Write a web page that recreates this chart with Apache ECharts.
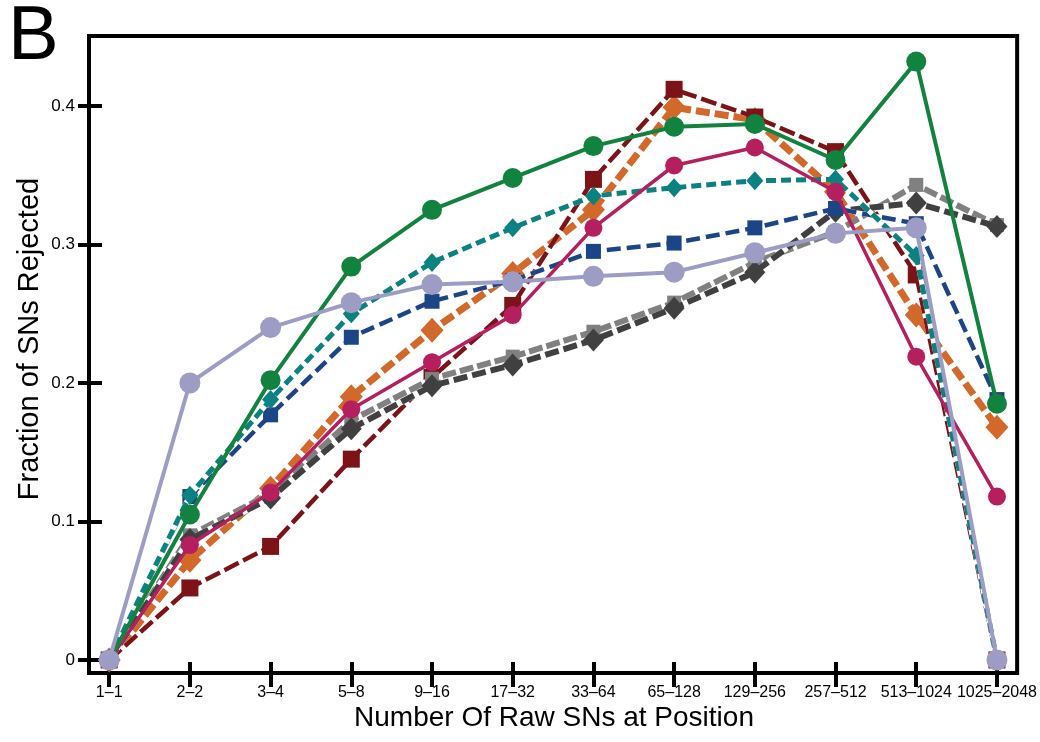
<!DOCTYPE html>
<html>
<head>
<meta charset="utf-8">
<script src="https://cdn.jsdelivr.net/npm/echarts@6/dist/echarts.min.js"></script>
<style>
html,body{margin:0;padding:0;background:#fff;}
#c{width:1040px;height:742px;}
</style>
</head>
<body>
<div id="c"></div>
<script>
const categories = ['1–1','2–2','3–4','5–8','9–16','17–32','33–64','65–128','129–256','257–512','513–1024','1025–2048'];
const yTicks = [0, 0.1, 0.2, 0.3, 0.4];

const greenVals    = [0, 0.105, 0.202, 0.284, 0.325, 0.348, 0.371, 0.385, 0.387, 0.361, 0.432, 0.185];
const darkRedVals  = [0, 0.052, 0.082, 0.145, 0.204, 0.256, 0.347, 0.412, 0.392, 0.367, 0.278, 0];
const orangeVals   = [0, 0.072, 0.124, 0.190, 0.238, 0.279, 0.325, 0.399, 0.390, 0.338, 0.249, 0.168];
const magentaVals  = [0, 0.083, 0.121, 0.181, 0.215, 0.249, 0.312, 0.357, 0.370, 0.338, 0.219, 0.118];
const tealVals     = [0, 0.119, 0.188, 0.250, 0.287, 0.312, 0.335, 0.341, 0.346, 0.347, 0.292, 0];
const navyVals     = [0, 0.118, 0.177, 0.233, 0.259, 0.274, 0.295, 0.301, 0.312, 0.326, 0.315, 0.188];
const lavenderVals = [0, 0.200, 0.240, 0.258, 0.271, 0.273, 0.277, 0.280, 0.294, 0.308, 0.312, 0];
const grayVals     = [0, 0.090, 0.120, 0.173, 0.203, 0.219, 0.237, 0.258, 0.287, 0.309, 0.343, 0.314];
const darkGrayVals = [0, 0.087, 0.117, 0.167, 0.198, 0.213, 0.231, 0.254, 0.280, 0.324, 0.330, 0.313];

// drawing order: bottom to top
const seriesDefs = [
  {name:'orange',   vals:orangeVals,   color:'#D2692B', width:7,   dash:[14,5], symbol:'diamond', size:[23,25]},
  {name:'darkRed',  vals:darkRedVals,  color:'#7C1417', width:4.5, dash:[16,5], symbol:'rect',    size:17},
  {name:'gray',     vals:grayVals,     color:'#808080', width:6,   dash:[14,4], symbol:'rect',    size:14},
  {name:'darkGray', vals:darkGrayVals, color:'#404040', width:6,   dash:[14,5], symbol:'diamond', size:[21,23]},
  {name:'navy',     vals:navyVals,     color:'#1B4586', width:4.5, dash:[14,6], symbol:'rect',    size:15},
  {name:'teal',     vals:tealVals,     color:'#0C8181', width:5,   dash:[10,5], symbol:'diamond', size:[17,19]},
  {name:'magenta',  vals:magentaVals,  color:'#B61F5E', width:3.5, dash:null,   symbol:'circle',  size:18},
  {name:'green',    vals:greenVals,    color:'#12833F', width:4,   dash:null,   symbol:'circle',  size:20},
  {name:'lavender', vals:lavenderVals, color:'#9C9CC5', width:4,   dash:null,   symbol:'circle',  size:21}
];

const series = [];
let z = 2;
seriesDefs.forEach(d => {
  const data = d.vals.map((v, i) => [i, v]);
  if (d.dash) {
    series.push({
      type:'line', data, z: z++, silent:true, animation:false,
      symbol:'none', lineStyle:{color:'#ffffff', width:d.width, type:'solid'}
    });
  }
  series.push({
    type:'line', name:d.name, data, z: z++, animation:false,
    symbol:d.symbol, symbolSize:d.size,
    itemStyle:{color:d.color, borderWidth:0},
    lineStyle:{color:d.color, width:d.width, type: d.dash ? d.dash : 'solid', cap:'butt'}
  });
});

const catIdx = categories.map((c, i) => i);
const font = "'Liberation Sans', Arial, sans-serif";

const chart = echarts.init(document.getElementById('c'), null, {renderer:'canvas'});
chart.setOption({
  backgroundColor:'#ffffff',
  animation:false,
  grid:{left:89, right:22, top:36, bottom:69, show:true, borderColor:'#000', borderWidth:4, backgroundColor:'transparent', containLabel:false},
  xAxis:[
    {type:'value', min:-0.25, max:11.25, position:'bottom',
     axisLine:{show:true, onZero:false, lineStyle:{color:'#000', width:4}},
     axisTick:{show:true, inside:false, length:14, customValues:catIdx, lineStyle:{color:'#000', width:4}},
     axisLabel:{show:true, customValues:catIdx, margin:12, color:'#000', fontFamily:font, fontSize:16,
       formatter: v => categories[Math.round(v)]},
     splitLine:{show:false}},
    {type:'value', min:-0.25, max:11.25, position:'bottom',
     axisLine:{show:false, onZero:false},
     axisTick:{show:true, inside:true, length:11, customValues:catIdx, lineStyle:{color:'#000', width:4}},
     axisLabel:{show:false}, splitLine:{show:false}}
  ],
  yAxis:[
    {type:'value', min:-0.0094, max:0.4505, position:'left',
     axisLine:{show:true, onZero:false, lineStyle:{color:'#000', width:4}},
     axisTick:{show:true, inside:false, length:11, customValues:yTicks, lineStyle:{color:'#000', width:4}},
     axisLabel:{show:true, customValues:yTicks, margin:14, color:'#000', fontFamily:font, fontSize:17,
       formatter: v => (Math.abs(v) < 1e-9 ? '0' : v.toFixed(1))},
     splitLine:{show:false}},
    {type:'value', min:-0.0094, max:0.4505, position:'left',
     axisLine:{show:false, onZero:false},
     axisTick:{show:true, inside:true, length:13, customValues:yTicks, lineStyle:{color:'#000', width:4}},
     axisLabel:{show:false}, splitLine:{show:false}}
  ],
  series: series,
  graphic:[
    {type:'text', x:8, y:38, style:{text:'B', font:"76px 'Liberation Sans', Arial, sans-serif", fill:'#000', align:'left', verticalAlign:'middle'}},
    {type:'text', x:554, y:718, style:{text:'Number Of Raw SNs at Position', font:"28px 'Liberation Sans', Arial, sans-serif", fill:'#000', align:'center', verticalAlign:'middle'}},
    {type:'text', x:30, y:339, rotation:Math.PI/2, style:{text:'Fraction of SNs Rejected', font:"29px 'Liberation Sans', Arial, sans-serif", fill:'#000', align:'center', verticalAlign:'middle'}}
  ]
});
</script>
</body>
</html>
